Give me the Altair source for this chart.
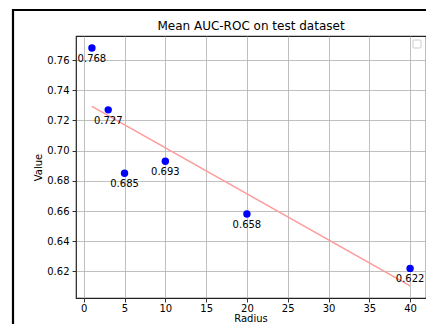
import altair as alt
import pandas as pd

radius = [1, 3, 5, 10, 20, 40]
auc = [0.768, 0.727, 0.685, 0.693, 0.658, 0.622]
labels = ["0.768", "0.727", "0.685", "0.693", "0.658", "0.622"]
x_ticks = [0, 5, 10, 15, 20, 25, 30, 35, 40]
y_ticks = [0.62, 0.64, 0.66, 0.68, 0.70, 0.72, 0.74, 0.76]
title_text = ["Mean AUC-ROC on test dataset"]
x_title = ["Radius"]

df = pd.DataFrame({"radius": radius, "auc": auc, "label": labels})

FONT = "DejaVu Sans"
W, H = 350, 262

xs = alt.Scale(domain=[-0.95, 41.95], nice=False, zero=False)
ys = alt.Scale(domain=[0.6024, 0.7759], nice=False, zero=False)

xenc = alt.X("radius:Q", scale=xs, title=None,
             axis=alt.Axis(values=x_ticks, format="d", grid=True, labelOverlap=False,
                           labelPadding=1))
yenc = alt.Y("auc:Q", scale=ys, title="Value",
             axis=alt.Axis(values=y_ticks, format=".2f", grid=True, labelOverlap=False))

base = alt.Chart(df)

points = base.mark_circle(size=55, color="#0000ff", opacity=1).encode(x=xenc, y=yenc)

trend = base.transform_regression("radius", "auc").mark_line(
    color="#ff9a9a", strokeWidth=1.5
).encode(x=xenc, y=yenc)

text = base.mark_text(dy=11, fontSize=10, font=FONT, color="#000000",
                      baseline="middle", align="center").encode(
    x=xenc, y=yenc, text="label:N")

one = pd.DataFrame({"t": title_text, "xt": x_title})

title = alt.Chart(one).mark_text(
    font=FONT, fontSize=12, color="#000000", align="center", baseline="middle"
).encode(x=alt.value(W / 2), y=alt.value(-10), text="t:N")

xlab = alt.Chart(one).mark_text(
    font=FONT, fontSize=10, color="#000000", align="center", baseline="alphabetic"
).encode(x=alt.value(W / 2), y=alt.value(H + 23.5), text="xt:N")

legend_box = alt.Chart(one).mark_rect(
    fill="white", stroke="#cccccc", strokeWidth=1, cornerRadius=1
).encode(x=alt.value(337), x2=alt.value(345), y=alt.value(4), y2=alt.value(12))

frame_left = alt.Chart(one).mark_rule(
    color="black", strokeWidth=2.2
).encode(x=alt.value(-63), y=alt.value(-27), y2=alt.value(300))

frame_top = alt.Chart(one).mark_rule(
    color="black", strokeWidth=2.2
).encode(x=alt.value(-64), x2=alt.value(360), y=alt.value(-26))

chart = alt.layer(trend, points, text, title, xlab, legend_box, frame_left, frame_top).properties(
    width=W, height=H,
    autosize=alt.AutoSizeParams(type="none"),
    padding={"left": 68, "top": 28, "right": 0, "bottom": 26},
).configure_view(
    stroke="#222222", strokeWidth=1.2
).configure_axis(
    labelFont=FONT, titleFont=FONT, labelFontSize=10, titleFontSize=10,
    labelColor="#000000", titleColor="#000000", titleFontWeight="normal",
    gridColor="#b0b0b0", gridWidth=0.8, domain=False,
    tickColor="#000000", tickSize=4, tickWidth=0.8, labelPadding=3,
).configure_axisY(titlePadding=3)

chart.save("out.html", embed_options={"renderer": "svg", "actions": False})
